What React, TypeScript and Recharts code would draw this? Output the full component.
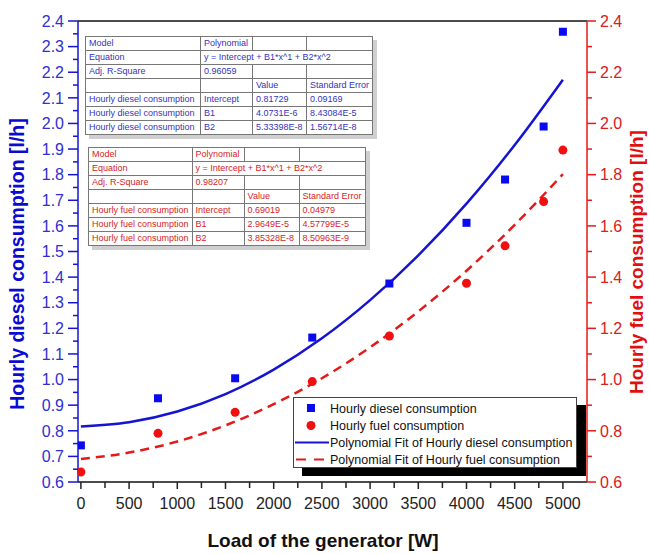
import {
  ComposedChart,
  Scatter,
  Line,
  XAxis,
  YAxis,
  ReferenceLine,
} from "recharts";

const loads = [0, 800, 1600, 2400, 3200, 4000, 4400, 4800, 5000];
const dieselUse = [0.743, 0.927, 1.005, 1.164, 1.375, 1.612, 1.781, 1.988, 2.358];
const fuelUse = [0.639, 0.79, 0.872, 0.992, 1.17, 1.376, 1.522, 1.695, 1.896];

const fitLoads = [0, 500, 1000, 1500, 2000, 2500, 3000, 3500, 4000, 4500, 5000];
const dieselFit = [0.817, 0.833, 0.875, 0.943, 1.039, 1.161, 1.31, 1.485, 1.687, 1.916, 2.171];
const fuelFit = [0.69, 0.715, 0.758, 0.821, 0.904, 1.005, 1.126, 1.266, 1.425, 1.604, 1.802];

const xLabels = [0, 500, 1000, 1500, 2000, 2500, 3000, 3500, 4000, 4500, 5000];
const leftLabels = [0.6, 0.7, 0.8, 0.9, 1.0, 1.1, 1.2, 1.3, 1.4, 1.5, 1.6, 1.7, 1.8, 1.9, 2.0, 2.1, 2.2, 2.3, 2.4];
const rightLabels = [0.6, 0.8, 1.0, 1.2, 1.4, 1.6, 1.8, 2.0, 2.2, 2.4];

const dieselTable = [
  ["Model", "Polynomial", "", ""],
  ["Equation", "y = Intercept + B1*x^1 + B2*x^2"],
  ["Adj. R-Square", "0.96059", "", ""],
  ["", "", "Value", "Standard Error"],
  ["Hourly diesel consumption", "Intercept", "0.81729", "0.09169"],
  ["Hourly diesel consumption", "B1", "4.0731E-6", "8.43084E-5"],
  ["Hourly diesel consumption", "B2", "5.33398E-8", "1.56714E-8"],
];
const fuelTable = [
  ["Model", "Polynomial", "", ""],
  ["Equation", "y = Intercept + B1*x^1 + B2*x^2"],
  ["Adj. R-Square", "0.98207", "", ""],
  ["", "", "Value", "Standard Error"],
  ["Hourly fuel consumption", "Intercept", "0.69019", "0.04979"],
  ["Hourly fuel consumption", "B1", "2.9649E-5", "4.57799E-5"],
  ["Hourly fuel consumption", "B2", "3.85328E-8", "8.50963E-9"],
];

const BLUE = "#1414d2";
const RED = "#e41a1a";
const FONT = "'Liberation Sans', Arial, sans-serif";

// minor ticks sit halfway between labelled ones
const withMinor = (major: number[]) =>
  major.flatMap((v, i) => (i ? [(v + major[i - 1]) / 2, v] : [v]));
const isLabel = (v: number, list: number[]) =>
  list.some((m) => Math.abs(m - v) < 1e-6);

const dieselPts = loads.map((x, i) => ({ x, y: dieselUse[i] }));
const fuelPts = loads.map((x, i) => ({ x, y: fuelUse[i] }));
const dieselCurve = fitLoads.map((x, i) => ({ x, y: dieselFit[i] }));
const fuelCurve = fitLoads.map((x, i) => ({ x, y: fuelFit[i] }));

const LeftTick = ({ x, y, payload }: any) => {
  const major = isLabel(payload.value, leftLabels);
  return (
    <g>
      <line x1={x} x2={x - (major ? 10 : 5)} y1={y} y2={y} stroke={BLUE} strokeWidth={1.5} />
      {major && (
        <text x={x - 14} y={y} dy="0.36em" textAnchor="end" fill="#3030d0" fontSize={16}>
          {payload.value.toFixed(1)}
        </text>
      )}
    </g>
  );
};

const RightTick = ({ x, y, payload }: any) => {
  const major = isLabel(payload.value, rightLabels);
  return (
    <g>
      <line x1={x} x2={x + (major ? 9 : 5)} y1={y} y2={y} stroke={RED} strokeWidth={1.5} />
      {major && (
        <text x={x + 13} y={y} dy="0.36em" textAnchor="start" fill="#d82020" fontSize={16}>
          {payload.value.toFixed(1)}
        </text>
      )}
    </g>
  );
};

const BottomTick = ({ x, y, payload }: any) => {
  const major = isLabel(payload.value, xLabels);
  return (
    <g>
      <line x1={x} x2={x} y1={y} y2={y + (major ? 7 : 6)} stroke="#222" strokeWidth={1.5} />
      {major && (
        <text x={x} y={y + 21} dy="0.36em" textAnchor="middle" fill="#222" fontSize={16}>
          {payload.value}
        </text>
      )}
    </g>
  );
};

const FitTable = ({ rows, color, left, top, cols, rowH }: any) => (
  <table
    style={{
      position: "absolute",
      left,
      top,
      borderCollapse: "collapse",
      fontFamily: FONT,
      fontSize: 9,
      color,
      background: "#fff",
      boxShadow: "4px 4px 0 #cfcfcf",
      tableLayout: "fixed",
      border: "1px solid #555",
    }}
  >
    <colgroup>
      {cols.map((w: number, i: number) => (
        <col key={i} style={{ width: w }} />
      ))}
    </colgroup>
    <tbody>
      {rows.map((r: string[], i: number) => (
        <tr key={i} style={{ height: rowH }}>
          {r.map((c, j) => (
            <td
              key={j}
              colSpan={r.length === 2 && j === 1 ? 3 : 1}
              style={{
                border: "1px solid #777",
                padding: "0 3px",
                whiteSpace: "nowrap",
                lineHeight: "11px",
                overflow: "hidden",
              }}
            >
              {c}
            </td>
          ))}
        </tr>
      ))}
    </tbody>
  </table>
);

const legendItems = [
  { kind: "square", text: "Hourly diesel consumption" },
  { kind: "circle", text: "Hourly fuel consumption" },
  { kind: "solid", text: "Polynomial Fit of Hourly diesel consumption" },
  { kind: "dashed", text: "Polynomial Fit of Hourly fuel consumption" },
];

const LegendBox = () => (
  <div
    style={{
      position: "absolute",
      left: 293,
      top: 397,
      width: 284,
      height: 71,
      background: "#fff",
      border: "1px solid #444",
      boxShadow: "9px 8px 0 #000",
      fontFamily: FONT,
      fontSize: 12.5,
      color: "#111",
      boxSizing: "border-box",
      paddingTop: 2,
    }}
  >
    {legendItems.map((it) => (
      <div key={it.text} style={{ display: "flex", alignItems: "center", height: 17 }}>
        <svg width={36} height={17}>
          {it.kind === "square" && <rect x={13} y={4} width={8} height={8} fill="#0a0af0" />}
          {it.kind === "circle" && <circle cx={17} cy={8.5} r={4.5} fill="#f01010" />}
          {it.kind === "solid" && <line x1={1} x2={35} y1={8.5} y2={8.5} stroke={BLUE} strokeWidth={2} />}
          {it.kind === "dashed" && (
            <line x1={2} x2={35} y1={8.5} y2={8.5} stroke={RED} strokeWidth={2} strokeDasharray="10 8" />
          )}
        </svg>
        <span>{it.text}</span>
      </div>
    ))}
  </div>
);

export default function App() {
  return (
    <div style={{ position: "absolute", left: 0, top: 0, width: 649, height: 554, background: "#fff" }}>
      <ComposedChart
        width={649}
        height={554}
        margin={{ top: 21, right: 0, bottom: 0, left: 0 }}
        style={{ fontFamily: FONT }}
      >
        <XAxis
          type="number"
          dataKey="x"
          domain={[-30, 5250]}
          ticks={withMinor(xLabels)}
          interval={0}
          tick={<BottomTick />}
          tickSize={0}
          tickMargin={0}
          tickLine={false}
          axisLine={{ stroke: "#111", strokeWidth: 1.5 }}
          height={72}
          allowDataOverflow
        />
        <YAxis
          yAxisId="left"
          domain={[0.6, 2.4]}
          ticks={withMinor(leftLabels)}
          interval={0}
          tick={<LeftTick />}
          tickSize={0}
          tickMargin={0}
          tickLine={false}
          axisLine={{ stroke: BLUE, strokeWidth: 1.5 }}
          width={78}
          allowDataOverflow
          label={{
            content: () => (
              <text
                x={17}
                y={264}
                transform="rotate(-90 17 264)"
                textAnchor="middle"
                dy="0.36em"
                fill="#0a0ad0"
                fontSize={19.5}
                fontWeight="bold"
              >
                Hourly diesel consumption [l/h]
              </text>
            ),
          }}
        />
        <YAxis
          yAxisId="right"
          orientation="right"
          domain={[0.6, 2.4]}
          ticks={withMinor(rightLabels)}
          interval={0}
          tick={<RightTick />}
          tickSize={0}
          tickMargin={0}
          tickLine={false}
          axisLine={{ stroke: RED, strokeWidth: 1.5 }}
          width={62}
          allowDataOverflow
          label={{
            content: () => (
              <text
                x={636}
                y={262}
                transform="rotate(-90 636 262)"
                textAnchor="middle"
                dy="0.36em"
                fill="#e01010"
                fontSize={19}
                fontWeight="bold"
              >
                Hourly fuel consumption [l/h]
              </text>
            ),
          }}
        />
        <ReferenceLine yAxisId="left" y={2.4} stroke="#111" strokeWidth={1.5} />
        <Line
          yAxisId="left"
          data={dieselCurve}
          dataKey="y"
          type="monotone"
          stroke={BLUE}
          strokeWidth={2.5}
          dot={false}
          isAnimationActive={false}
        />
        <Line
          yAxisId="right"
          data={fuelCurve}
          dataKey="y"
          type="monotone"
          stroke={RED}
          strokeWidth={2.5}
          strokeDasharray="9 6"
          dot={false}
          isAnimationActive={false}
        />
        <Scatter
          yAxisId="left"
          data={dieselPts}
          dataKey="y"
          fill="#0a0af0"
          isAnimationActive={false}
          shape={(p: any) => <rect x={p.cx - 4} y={p.cy - 4} width={8} height={8} fill="#0a0af0" />}
        />
        <Scatter
          yAxisId="right"
          data={fuelPts}
          dataKey="y"
          fill="#f01010"
          isAnimationActive={false}
          shape={(p: any) => <circle cx={p.cx} cy={p.cy} r={4.5} fill="#f01010" />}
        />
        <text x={323} y={540} textAnchor="middle" dy="0.36em" fontSize={19} fontWeight="bold" fill="#111">
          Load of the generator [W]
        </text>
      </ComposedChart>
      <FitTable rows={dieselTable} color="#3434c0" left={85} top={36} cols={[115, 52, 54, 64]} rowH={14} />
      <FitTable rows={fuelTable} color="#d42424" left={88} top={147} cols={[103, 52, 55, 65]} rowH={14} />
      <LegendBox />
    </div>
  );
}
